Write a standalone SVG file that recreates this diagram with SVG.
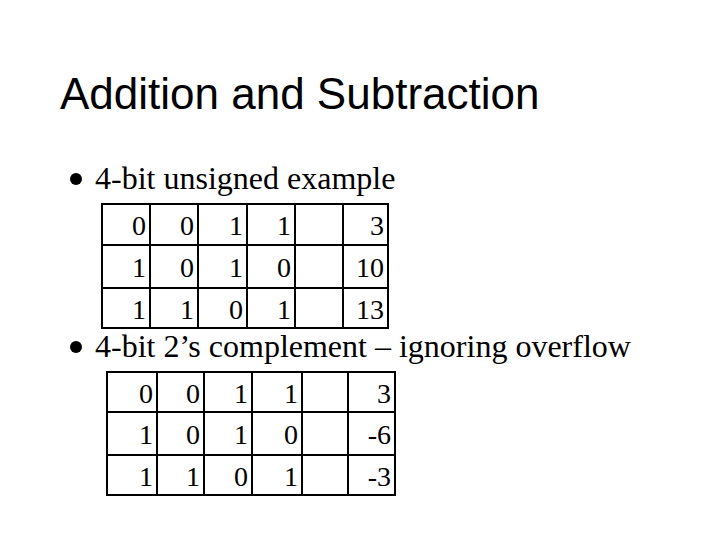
<svg xmlns="http://www.w3.org/2000/svg" width="720" height="540" viewBox="0 0 720 540">
<style>
.t{font-family:"Liberation Sans",Arial,sans-serif;font-size:44px}
.b{font-family:"Liberation Serif","Times New Roman",serif;font-size:32px}
.c{font-family:"Liberation Serif","Times New Roman",serif;font-size:28px;text-anchor:end}
.g{fill:none;stroke:#000;stroke-width:2}
</style>
<rect width="720" height="540" fill="#fff"/>
<text class="t" x="60" y="109">Addition and Subtraction</text>
<circle cx="76" cy="179" r="6"/>
<text class="b" x="95" y="189">4-bit unsigned example</text>
<circle cx="76" cy="347" r="6"/>
<text class="b" x="95" y="357">4-bit 2’s complement – ignoring overflow</text>
<g id="table1">
<rect class="g" x="102" y="204" width="286" height="124"/>
<path class="g" d="M150 204V328M198 204V328M247 204V328M295 204V328M343 204V328M102 245H388M102 288H388"/>
<g class="c">
<text x="146" y="235">0</text><text x="194" y="235">0</text><text x="243" y="235">1</text><text x="291" y="235">1</text><text x="384" y="235">3</text>
<text x="146" y="277">1</text><text x="194" y="277">0</text><text x="243" y="277">1</text><text x="291" y="277">0</text><text x="384" y="277">10</text>
<text x="146" y="319">1</text><text x="194" y="319">1</text><text x="243" y="319">0</text><text x="291" y="319">1</text><text x="384" y="319">13</text>
</g>
</g>
<g id="table2">
<rect class="g" x="107" y="372" width="288" height="123"/>
<path class="g" d="M157 372V495M204 372V495M252 372V495M302 372V495M348 372V495M107 412H395M107 455H395"/>
<g class="c">
<text x="153" y="403">0</text><text x="200" y="403">0</text><text x="248" y="403">1</text><text x="298" y="403">1</text><text x="391" y="403">3</text>
<text x="153" y="444">1</text><text x="200" y="444">0</text><text x="248" y="444">1</text><text x="298" y="444">0</text><text x="391" y="444">-6</text>
<text x="153" y="486">1</text><text x="200" y="486">1</text><text x="248" y="486">0</text><text x="298" y="486">1</text><text x="391" y="486">-3</text>
</g>
</g>
</svg>
